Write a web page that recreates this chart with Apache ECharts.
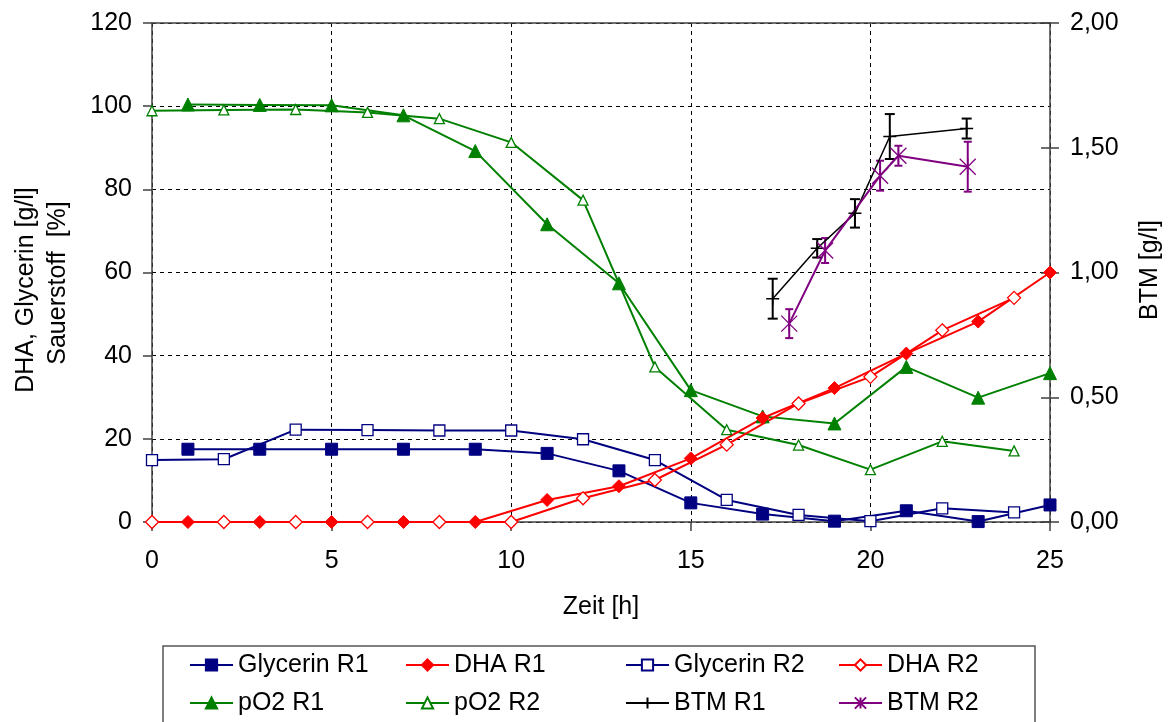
<!DOCTYPE html>
<html>
<head>
<meta charset="utf-8">
<script src="https://cdn.jsdelivr.net/npm/echarts@6/dist/echarts.min.js"></script>
<style>
  html, body { margin: 0; padding: 0; background: #fff; }
  #chart { width: 1170px; height: 722px; }
</style>
</head>
<body>
<div id="chart"></div>
<script>
// Sampling times [h]
var hoursOdd  = [1, 3, 5, 7, 9, 11, 13, 15, 17, 19, 21, 23, 25];
var hoursEven = [0, 2, 4, 6, 8, 10, 12, 14, 16, 18, 20, 22, 24];

// Reactor 1 [g/l] and [%]
var glycerinR1 = [17.5, 17.5, 17.5, 17.5, 17.5, 16.5, 12.3, 4.6, 1.9, 0.2, 2.7, 0.1, 4.1];
var dhaR1      = [0, 0, 0, 0, 0, 5.3, 8.6, 15.3, 25, 32.2, 40.5, 48.2, 60];
var pO2R1      = [100.4, 100.3, 100.2, 97.8, 89.2, 71.6, 57.4, 31.7, 25.4, 23.7, 37.3, 29.9, 35.8];

// Reactor 2 [g/l] and [%]
var glycerinR2 = [14.9, 15.1, 22.2, 22.1, 22, 22, 19.9, 14.9, 5.3, 1.7, 0.2, 3.3, 2.3];
var dhaR2      = [0, 0, 0, 0, 0, 0, 5.7, 10.1, 18.6, 28.5, 34.9, 46.1, 53.9];
var pO2R2      = [98.9, 99.1, 99.2, 98.5, 97.0, 91.3, 77.4, 37.3, 22.2, 18.5, 12.6, 19.4, 17.1];

// Biomass (BTM) [g/l] with standard deviation
var btmR1Hours = [17.28, 18.52, 19.57, 20.54, 22.68];
var btmR1      = [0.895, 1.097, 1.237, 1.545, 1.577];
var btmR1Err   = [0.08, 0.037, 0.057, 0.09, 0.04];
var btmR2Hours = [17.74, 18.74, 20.27, 20.78, 22.71];
var btmR2      = [0.795, 1.088, 1.388, 1.468, 1.424];
var btmR2Err   = [0.058, 0.05, 0.06, 0.04, 0.1];

var leftTicks  = [0, 20, 40, 60, 80, 100, 120];
var rightTicks = [0, 0.5, 1, 1.5, 2];

function pairs(xs, ys) { return xs.map(function (x, i) { return [x, ys[i]]; }); }
function triples(xs, ys, es) { return xs.map(function (x, i) { return [x, ys[i], es[i]]; }); }

var FONT = 'Liberation Sans, Arial, sans-serif';
var FS = 25;
var NAVY = '#000080', RED = '#ff0000', GREEN = '#008000', PURPLE = '#800080';
var AXIS = '#404040';

function errorBars(color, cap, width) {
  return function (params, api) {
    var x = api.value(0), y = api.value(1), e = api.value(2);
    var top = api.coord([x, y + e]);
    var bot = api.coord([x, y - e]);
    var st = { stroke: color, lineWidth: width };
    return {
      type: 'group',
      children: [
        { type: 'line', shape: { x1: top[0], y1: top[1], x2: bot[0], y2: bot[1] }, style: st },
        { type: 'line', shape: { x1: top[0] - cap, y1: top[1], x2: top[0] + cap, y2: top[1] }, style: st },
        { type: 'line', shape: { x1: bot[0] - cap, y1: bot[1], x2: bot[0] + cap, y2: bot[1] }, style: st }
      ]
    };
  };
}

function lineSeries(name, data, color, symbol, size, filled, extra) {
  var s = {
    name: name, type: 'line', data: data,
    symbol: symbol, symbolSize: size, showSymbol: true,
    lineStyle: { color: color, width: 2 },
    itemStyle: filled
      ? { color: color, borderColor: color, borderWidth: 1 }
      : { color: '#ffffff', borderColor: color, borderWidth: 1.3 },
    emphasis: { disabled: true }
  };
  if (extra) { for (var k in extra) s[k] = extra[k]; }
  return s;
}

var PLUS = 'path://M0,5L10,5M5,0L5,10';
var STAR = 'path://M0,0L10,10M10,0L0,10M5,0L5,10';

var chart = echarts.init(document.getElementById('chart'), null, { renderer: 'canvas' });

function legendBlock(left, names) {
  return {
    orient: 'vertical', left: left, top: 651, padding: 0,
    itemWidth: 43, itemHeight: 14, itemGap: 10,
    textStyle: { fontFamily: FONT, fontSize: FS, color: '#000', lineHeight: 28 },
    data: names, selectedMode: false
  };
}

var plotBox = { left: 152, top: 23, width: 898, height: 499, containLabel: false };

var option = {
  animation: false,
  backgroundColor: '#ffffff',
  textStyle: { fontFamily: FONT },
  grid: [plotBox, plotBox],
  xAxis: [
    {
      gridIndex: 0, type: 'value', min: 0, max: 25, interval: 5,
      axisLine: { lineStyle: { color: AXIS, width: 1.5 } },
      axisTick: { length: 9, lineStyle: { color: AXIS, width: 1.5 } },
      axisLabel: { fontFamily: FONT, fontSize: FS, color: '#000', margin: 27 },
      splitLine: { show: true, lineStyle: { color: '#000', width: 1, type: [4, 4] } }
    },
    {
      gridIndex: 0, type: 'value', min: 0, max: 25, position: 'top',
      axisLine: { show: true, onZero: false, lineStyle: { color: AXIS, width: 1.5 } },
      axisTick: { show: false }, axisLabel: { show: false }, splitLine: { show: false }
    },
    {
      // companion axis of the second grid, kept invisible
      gridIndex: 1, type: 'value', min: 0, max: 25, show: false
    }
  ],
  yAxis: [
    {
      gridIndex: 0, type: 'value', min: leftTicks[0], max: leftTicks[leftTicks.length - 1], interval: 20,
      axisLine: { show: true, lineStyle: { color: AXIS, width: 1.5 } },
      axisTick: { show: true, length: 9, lineStyle: { color: AXIS, width: 1.5 } },
      axisLabel: { fontFamily: FONT, fontSize: FS, color: '#000', margin: 20 },
      splitLine: { show: true, lineStyle: { color: '#000', width: 1, type: [4, 4] } }
    },
    {
      gridIndex: 0, type: 'value', min: rightTicks[0], max: rightTicks[rightTicks.length - 1], interval: 0.5,
      position: 'right',
      axisLine: { show: true, onZero: false, lineStyle: { color: AXIS, width: 1.5 } },
      axisTick: { show: true, length: 9, lineStyle: { color: AXIS, width: 1.5 } },
      axisLabel: {
        fontFamily: FONT, fontSize: FS, color: '#000', margin: 20,
        formatter: function (v) { return v.toFixed(2).replace('.', ','); }
      },
      splitLine: { show: false }
    },
    {
      // inner half of the crossing ticks on the BTM axis
      gridIndex: 1, type: 'value', min: rightTicks[0], max: rightTicks[rightTicks.length - 1], interval: 0.5,
      position: 'right',
      axisLine: { show: false, onZero: false },
      axisTick: { show: true, inside: true, length: 9, lineStyle: { color: AXIS, width: 1.5 } },
      axisLabel: { show: false },
      splitLine: { show: false }
    }
  ],
  legend: [
    legendBlock(189, ['Glycerin R1', 'pO2 R1']),
    legendBlock(405, ['DHA R1', 'pO2 R2']),
    legendBlock(625, ['Glycerin R2', 'BTM R1']),
    legendBlock(838, ['DHA R2', 'BTM R2'])
  ],
  graphic: [
    { type: 'rect', z: -1, shape: { x: 163, y: 646, width: 872, height: 100 },
      style: { fill: 'none', stroke: '#555', lineWidth: 1.5 } },
    { type: 'text', x: 26, y: 290, rotation: Math.PI / 2,
      style: { text: 'DHA, Glycerin [g/l]', font: FS + 'px ' + FONT, fill: '#000', align: 'center', verticalAlign: 'middle' } },
    { type: 'text', x: 58, y: 283, rotation: Math.PI / 2,
      style: { text: 'Sauerstoff  [%]', font: FS + 'px ' + FONT, fill: '#000', align: 'center', verticalAlign: 'middle' } },
    { type: 'text', x: 1150, y: 270, rotation: Math.PI / 2,
      style: { text: 'BTM [g/l]', font: FS + 'px ' + FONT, fill: '#000', align: 'center', verticalAlign: 'middle' } },
    { type: 'text', x: 601, y: 607,
      style: { text: 'Zeit [h]', font: FS + 'px ' + FONT, fill: '#000', align: 'center', verticalAlign: 'middle' } }
  ],
  series: [
    lineSeries('pO2 R1', pairs(hoursOdd, pO2R1), GREEN, 'triangle', 13, true),
    lineSeries('pO2 R2', pairs(hoursEven, pO2R2), GREEN, 'triangle', 10, false),
    lineSeries('Glycerin R1', pairs(hoursOdd, glycerinR1), NAVY, 'rect', 12, true),
    lineSeries('Glycerin R2', pairs(hoursEven, glycerinR2), NAVY, 'rect', 11, false),
    lineSeries('DHA R1', pairs(hoursOdd, dhaR1), RED, 'diamond', 13, true),
    lineSeries('DHA R2', pairs(hoursEven, dhaR2), RED, 'diamond', 13, false),
    {
      name: 'BTM R1 SD', type: 'custom', xAxisIndex: 0, yAxisIndex: 1,
      data: triples(btmR1Hours, btmR1, btmR1Err),
      renderItem: errorBars('#000', 5, 2), z: 3, silent: true
    },
    {
      name: 'BTM R2 SD', type: 'custom', xAxisIndex: 0, yAxisIndex: 1,
      data: triples(btmR2Hours, btmR2, btmR2Err),
      renderItem: errorBars(PURPLE, 4, 2), z: 3, silent: true
    },
    lineSeries('BTM R1', pairs(btmR1Hours, btmR1), '#000', PLUS, 13, true,
      { yAxisIndex: 1, lineStyle: { color: '#000', width: 1.5 },
        itemStyle: { color: '#000', borderColor: '#000', borderWidth: 1.5 } }),
    lineSeries('BTM R2', pairs(btmR2Hours, btmR2), PURPLE, STAR, 16, true,
      { yAxisIndex: 1, lineStyle: { color: PURPLE, width: 2 },
        itemStyle: { color: PURPLE, borderColor: PURPLE, borderWidth: 1.3 } })
  ]
};

chart.setOption(option);
</script>
</body>
</html>
